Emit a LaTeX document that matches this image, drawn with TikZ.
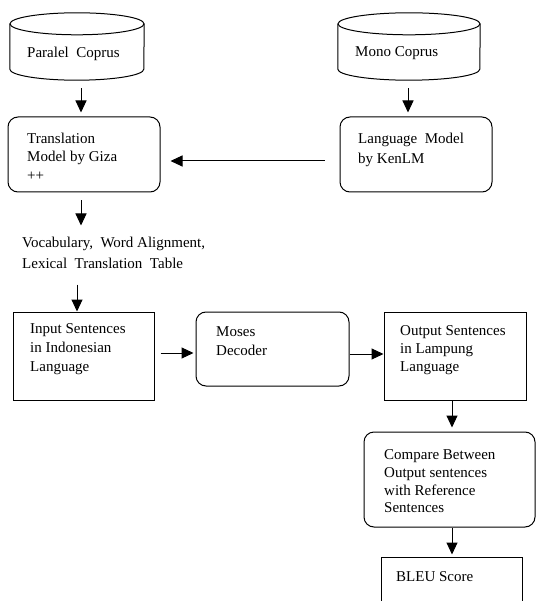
\documentclass[tikz,border=0pt]{standalone}
\usepackage{fontspec}
\setmainfont{Liberation Serif}
\usetikzlibrary{arrows.meta}
\begin{document}
\begin{tikzpicture}[x=1pt,y=-1pt,
  lw/.style={line width=1pt},
  box/.style={draw, lw, inner sep=0pt},
  rbox/.style={box, rounded corners=10pt},
  ghost/.style={draw=none, inner sep=0pt},
  cyl/.style={draw, lw},
  txt/.style={anchor=north west, align=left, inner sep=0pt, font=\fontsize{15}{18.5}\selectfont},
  arr/.style={lw, -{Triangle[length=12pt,width=11pt]}}]
\useasboundingbox (0,0) rectangle (536,601);
\clip (0,0) rectangle (536,601);
% cylinders
\node[ghost, minimum width=134pt, minimum height=67pt] (pc) at (77,46.5) {};
\draw[cyl] ([yshift=-11pt]pc.north west) -- ([yshift=11pt]pc.south west)
  arc[start angle=180,end angle=360,x radius=67pt,y radius=11pt] -- ([yshift=-11pt]pc.north east);
\draw[cyl] ([yshift=-11pt]pc.north) ellipse[x radius=67pt,y radius=11pt];
\node[txt] (pct) at (27,46.5) {Paralel\ \ Coprus};

\node[ghost, minimum width=142pt, minimum height=67pt] (mc) at (409,46.5) {};
\draw[cyl] ([yshift=-11pt]mc.north west) -- ([yshift=11pt]mc.south west)
  arc[start angle=180,end angle=360,x radius=71pt,y radius=11pt] -- ([yshift=-11pt]mc.north east);
\draw[cyl] ([yshift=-11pt]mc.north) ellipse[x radius=71pt,y radius=11pt];
\node[txt] (mct) at (355,46.5) {Mono Coprus};

% boxes
\node[rbox, minimum width=152pt, minimum height=75pt] (tm) at (84,154.5) {};
\node[txt] (tmt) at (27,132.5) {Translation\\Model by Giza\\++};
\node[rbox, minimum width=152pt, minimum height=75pt] (lm) at (416,154.5) {};
\node[txt, font=\fontsize{15}{20}\selectfont] (lmt) at (358,132.5) {Language\ \ Model\\by KenLM};

\node[txt, font=\fontsize{15}{21}\selectfont] (voc) at (22,236.7) {Vocabulary,\ \ Word Alignment,\\Lexical\ \ Translation\ \ Table};

\node[box, minimum width=141pt, minimum height=88pt] (inp) at (83.5,356) {};
\node[txt, font=\fontsize{15}{19}\selectfont] (inpt) at (30,323.7) {Input Sentences\\in Indonesian\\Language};
\node[rbox, minimum width=153pt, minimum height=74pt] (mo) at (272.5,349) {};
\node[txt, font=\fontsize{15}{19}\selectfont] (mot) at (216,326.7) {Moses\\Decoder};
\node[box, minimum width=142pt, minimum height=88pt] (out) at (455,356) {};
\node[txt, font=\fontsize{15}{18}\selectfont] (outt) at (400,325.7) {Output Sentences\\in Lampung\\Language};
\node[rbox, minimum width=171pt, minimum height=95pt] (cmp) at (449.5,479.5) {};
\node[txt, font=\fontsize{15}{17.7}\selectfont] (cmpt) at (384,449.7) {Compare Between\\Output sentences\\with Reference\\Sentences};
\node[box, minimum width=141pt, minimum height=73pt] (bl) at (451.5,593.5) {};
\node[txt] (blt) at (396,571.7) {BLEU Score};

% connectors
\draw[arr] ([xshift=4pt,yshift=-8pt]pc.south) -- ([xshift=-3pt,yshift=4pt]tm.north);
\draw[arr] ([xshift=-1pt,yshift=-8pt]mc.south) -- ([xshift=-8pt,yshift=4pt]lm.north);
\draw[arr] ([xshift=-15pt,yshift=-6.5pt]lm.west) -- ([xshift=10pt,yshift=-6.5pt]tm.east);
\draw[arr] ([xshift=-3pt,yshift=-8pt]tm.south) -- ([xshift=-3pt,yshift=-33pt]tm.south);
\draw[arr] ([xshift=-6.5pt,yshift=27pt]inp.north) -- ([xshift=-6.5pt]inp.north);
\draw[arr] ([xshift=6pt,yshift=3pt]inp.east) -- ([xshift=-2pt,yshift=-4pt]mo.west);
\draw[arr] ([yshift=-5pt]mo.east) -- ([yshift=2pt]out.west);
\draw[arr] ([xshift=-3pt]out.south) -- ([xshift=2.5pt,yshift=4pt]cmp.north);
\draw[arr] ([xshift=2.5pt]cmp.south) -- ([xshift=0.5pt,yshift=2pt]bl.north);
\end{tikzpicture}
\end{document}
